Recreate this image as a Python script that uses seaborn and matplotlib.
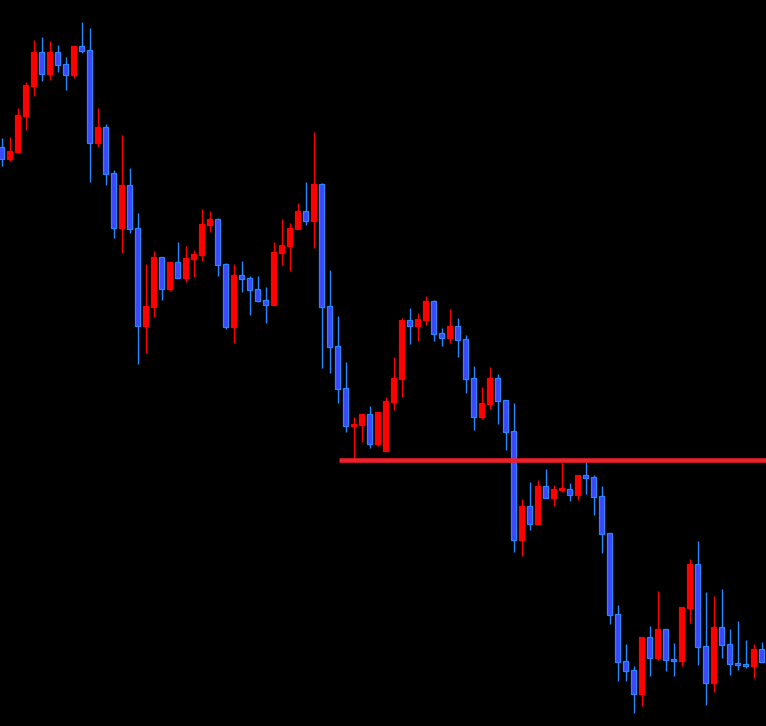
import matplotlib
matplotlib.use("Agg")
import matplotlib.pyplot as plt
import seaborn as sns
import numpy as np
import pandas as pd

# OHLC prices (arbitrary price units)
opens = [579, 567.3, 574.3, 610.3, 640.3, 674, 652.3, 674, 662, 651.3,
         680, 676, 583.3, 599, 553, 498.3, 541, 498, 400.3, 419.3,
         469, 437.3, 464, 448.3, 467.3, 471.3, 501.3, 507, 462, 399.3,
         451, 448, 437, 426, 421.3, 473.3, 480.3, 497.3, 515, 505.3,
         542, 420, 380, 338, 300.3, 301.3, 312.3, 282.3, 275.3, 324.3,
         347.3, 406, 400.3, 406.3, 425, 393, 388.3, 400, 387, 348,
         309.3, 322.3, 348, 326, 295, 186.3, 220, 202.3, 240, 228.3,
         236.3, 237, 231.3, 251, 249, 230, 193, 112, 65, 56,
         32.3, 89, 68.3, 97, 67, 65.3, 118.3, 162, 80, 43.3,
         99, 82, 63, 62, 60.3, 77]
highs = [588, 589, 618, 644, 686, 689, 685, 681, 669, 680,
         704, 698, 618, 602, 556, 591, 558, 513, 462, 475,
         469, 464, 484, 480, 476, 517, 515, 508, 463, 462,
         465, 450, 450, 439, 484, 507, 503, 523, 544, 594,
         543, 456, 410, 364, 309.3, 312.3, 320.3, 314.3, 329.3, 369,
         408, 418, 413, 430, 426, 398, 417, 408, 391, 360,
         339, 359, 352, 326, 323, 227, 244, 246, 257, 241,
         263, 243, 251, 264, 251, 240, 193, 121, 82, 60,
         89, 100, 135, 97, 83, 119, 167, 185, 134, 130,
         137, 97, 105, 86, 82, 84]
lows = [560.3, 565.3, 573.3, 596.3, 630.3, 645.3, 646.3, 654.3, 636.3, 648.3,
        673.3, 544.3, 579.3, 541.3, 488.3, 473.3, 493.3, 362.3, 373.3, 409.3,
        426.3, 435.3, 448.3, 444.3, 449.3, 465.3, 494.3, 450.3, 397.3, 383.3,
        434.3, 411.3, 424.3, 403.3, 421.3, 461.3, 455.3, 497.3, 501.3, 478.3,
        358.3, 353.3, 323.3, 294.3, 267, 284.3, 278.3, 280.3, 275.3, 316.3,
        329.3, 382.3, 385.3, 401.3, 385.3, 380.3, 383.3, 369.3, 333.3, 296.3,
        307.3, 317.3, 302.3, 276.3, 174.3, 170.3, 196.3, 202.3, 228.3, 220.3,
        234.3, 225.3, 226.3, 232.3, 211.3, 173.3, 102.3, 45.3, 45.3, 13.3,
        20.3, 50.3, 66.3, 55.3, 50.3, 60.3, 103.3, 61.3, 21.3, 34.3,
        68.3, 51.3, 56.3, 58.3, 48.3, 64.3]
closes = [567.3, 575, 611, 641, 674, 652.3, 674, 661.3, 651.3, 680,
          675.3, 583.3, 599.3, 552.3, 498.3, 541, 497.3, 400.3, 420, 469,
          437.3, 464, 448.3, 468, 472, 502, 507, 461.3, 399.3, 451,
          447.3, 436.3, 425.3, 421.3, 474, 481, 498, 515, 505.3, 542,
          419.3, 379.3, 337.3, 300.3, 302.3, 312.3, 282.3, 314.3, 325.3, 348,
          406, 400.3, 407, 425, 392.3, 388.3, 400, 386.3, 347.3, 309.3,
          323, 348, 325.3, 294.3, 186.3, 220, 202.3, 240, 228.3, 237,
          237, 231.3, 251, 248.3, 229.3, 192.3, 111.3, 64.3, 55.3, 32.3,
          89, 68.3, 97, 66.3, 65.3, 119, 162, 79.3, 43.3, 99,
          81.3, 62.3, 61.3, 60.3, 77, 64.3]

support_level = 265.7
support_start = 42.2

df = pd.DataFrame({"o": opens, "h": highs, "l": lows, "c": closes})
df["idx"] = np.arange(len(df))
df["up"] = df["c"] >= df["o"]

sns.set_theme(style="dark", rc={"axes.facecolor": "black", "figure.facecolor": "black"})

UP = "#ff0000"
DOWN_FILL = "#4045ff"
DOWN_EDGE = "#2488ff"

fig = plt.figure(figsize=(7.66, 7.26), dpi=100)
ax = fig.add_axes([0, 0, 1, 1])
ax.set_facecolor("black")

wick_colors = [UP if u else DOWN_EDGE for u in df["up"]]
ax.vlines(df["idx"], df["l"], df["h"], colors=wick_colors, linewidth=1.0, zorder=2)

bottoms = np.minimum(df["o"], df["c"])
heights = np.maximum(np.abs(df["c"] - df["o"]), 1.2)
fills = [UP if u else DOWN_FILL for u in df["up"]]
edges = [UP if u else DOWN_EDGE for u in df["up"]]
ax.bar(df["idx"], heights, bottom=bottoms, width=0.52, color=fills,
       edgecolor=edges, linewidth=0.9, zorder=3)

ax.hlines(support_level, support_start, len(df) + 2, colors="#f0202a",
          linewidth=3.3, zorder=4)

ax.set_xlim(-0.1875, 95.5625)
ax.set_ylim(0, 726)
ax.set_axis_off()

fig.savefig("out.png", dpi=100, facecolor="black")
